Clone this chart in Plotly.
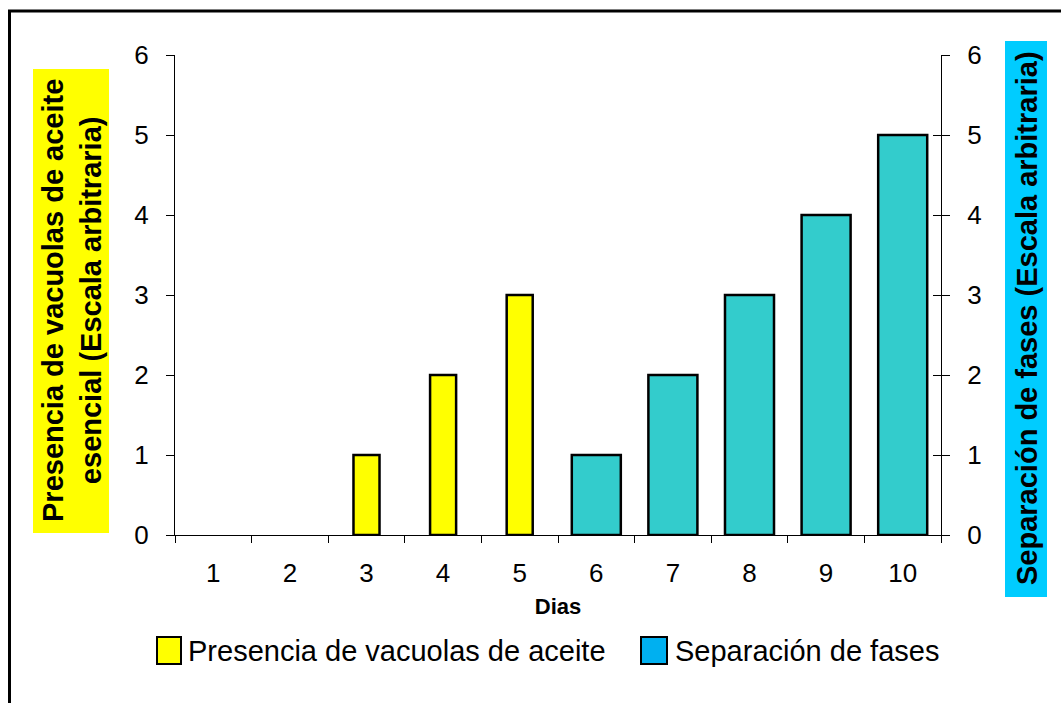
import plotly.graph_objects as go

# ---- data ----
days = ["1", "2", "3", "4", "5", "6", "7", "8", "9", "10"]
vacuolas_days = ["1", "2", "3", "4", "5"]
vacuolas_vals = [0, 0, 1, 2, 3]
fases_days = ["6", "7", "8", "9", "10"]
fases_vals = [1, 2, 3, 4, 5]
y_ticks = [0, 1, 2, 3, 4, 5, 6]

W, H = 1061, 703
L, R, T, B = 175, 941, 55, 535  # plot area pixel box


def px(x):
    return (x - L) / (R - L)


def py(y):
    return (B - y) / (B - T)


FONT = "Liberation Sans, Arial, sans-serif"

# zero values have no visible bar in the original
vac_x = [d for d, v in zip(vacuolas_days, vacuolas_vals) if v > 0]
vac_y = [v for v in vacuolas_vals if v > 0]

fig = go.Figure()
fig.add_trace(go.Bar(
    x=vac_x, y=vac_y, width=0.34,
    name="Presencia de vacuolas de aceite",
    marker=dict(color="#FFFF00", line=dict(color="#000000", width=2.5)),
    showlegend=False, yaxis="y",
))
fig.add_trace(go.Bar(
    x=fases_days, y=fases_vals, width=0.64,
    name="Separación de fases",
    marker=dict(color="#33CCCC", line=dict(color="#000000", width=2.5)),
    showlegend=False, yaxis="y2",
))
# helper trace so the inner-tick right axis is drawn
fig.add_trace(go.Scatter(x=[], y=[], yaxis="y3", showlegend=False, hoverinfo="skip"))

axis_common = dict(range=[0, 6], tickvals=y_ticks, showgrid=False, zeroline=False,
                   showline=True, linecolor="#000000", linewidth=1,
                   ticks="outside", ticklen=8, tickcolor="#000000", tickwidth=1,
                   tickfont=dict(family=FONT, size=26, color="#000000"))

fig.update_layout(
    width=W, height=H,
    margin=dict(l=L, r=W - R, t=T, b=H - B),
    paper_bgcolor="white", plot_bgcolor="white",
    barmode="overlay",
    showlegend=False,
    xaxis=dict(
        type="category", categoryorder="array", categoryarray=days,
        range=[-0.5, 9.5], tickson="boundaries",
        ticks="outside", ticklen=7, tickcolor="#000000", tickwidth=1,
        showline=True, linecolor="#000000", linewidth=1, showgrid=False,
        tickfont=dict(family=FONT, size=26, color="#000000"),
        ticklabelstandoff=15,
        title=dict(text="<b>Dias</b>", font=dict(family=FONT, size=22, color="#000000"), standoff=11),
    ),
    yaxis=dict(**axis_common, side="left", ticklabelstandoff=12),
    yaxis2=dict(**axis_common, side="right", overlaying="y", anchor="x", ticklabelstandoff=12),
    yaxis3=dict(range=[0, 6], tickvals=y_ticks, side="right", overlaying="y", anchor="x",
                ticks="inside", ticklen=8, tickcolor="#000000", tickwidth=1,
                showticklabels=False, showline=False, showgrid=False, zeroline=False),
)

shapes = []
# outer frame
shapes.append(dict(type="rect", xref="paper", yref="paper",
                   x0=px(9.5), x1=px(1075), y0=py(11), y1=py(715),
                   line=dict(color="#000000", width=3), fillcolor="rgba(0,0,0,0)", layer="below"))
# title backgrounds
shapes.append(dict(type="rect", xref="paper", yref="paper",
                   x0=px(33), x1=px(109), y0=py(533), y1=py(69),
                   line=dict(width=0), fillcolor="#FFFF00", layer="below"))
shapes.append(dict(type="rect", xref="paper", yref="paper",
                   x0=px(1005), x1=px(1047), y0=py(597), y1=py(41),
                   line=dict(width=0), fillcolor="#00CCFF", layer="below"))
# legend swatches
shapes.append(dict(type="rect", xref="paper", yref="paper",
                   x0=px(157), x1=px(181), y0=py(664), y1=py(637),
                   line=dict(color="#000000", width=2), fillcolor="#FFFF00"))
shapes.append(dict(type="rect", xref="paper", yref="paper",
                   x0=px(641), x1=px(667), y0=py(664), y1=py(637),
                   line=dict(color="#000000", width=2), fillcolor="#00B0F0"))
fig.update_layout(shapes=shapes)

annotations = [
    dict(text="<b>Presencia de vacuolas de aceite<br>esencial (Escala arbitraria)</b>",
         xref="paper", yref="paper", x=px(72), y=py(301), xanchor="center", yanchor="middle",
         textangle=-90, showarrow=False, font=dict(family=FONT, size=29, color="#000000")),
    dict(text="<b>Separación de fases (Escala arbitraria)</b>",
         xref="paper", yref="paper", x=px(1027), y=py(318), xanchor="center", yanchor="middle",
         textangle=-90, showarrow=False, font=dict(family=FONT, size=29, color="#000000")),
    dict(text="Presencia de vacuolas de aceite",
         xref="paper", yref="paper", x=px(186), y=py(651), xanchor="left", yanchor="middle",
         showarrow=False, font=dict(family=FONT, size=29, color="#000000")),
    dict(text="Separación de fases",
         xref="paper", yref="paper", x=px(673), y=py(651), xanchor="left", yanchor="middle",
         showarrow=False, font=dict(family=FONT, size=29, color="#000000")),
]
fig.update_layout(annotations=annotations)

fig.write_html("out.html")
